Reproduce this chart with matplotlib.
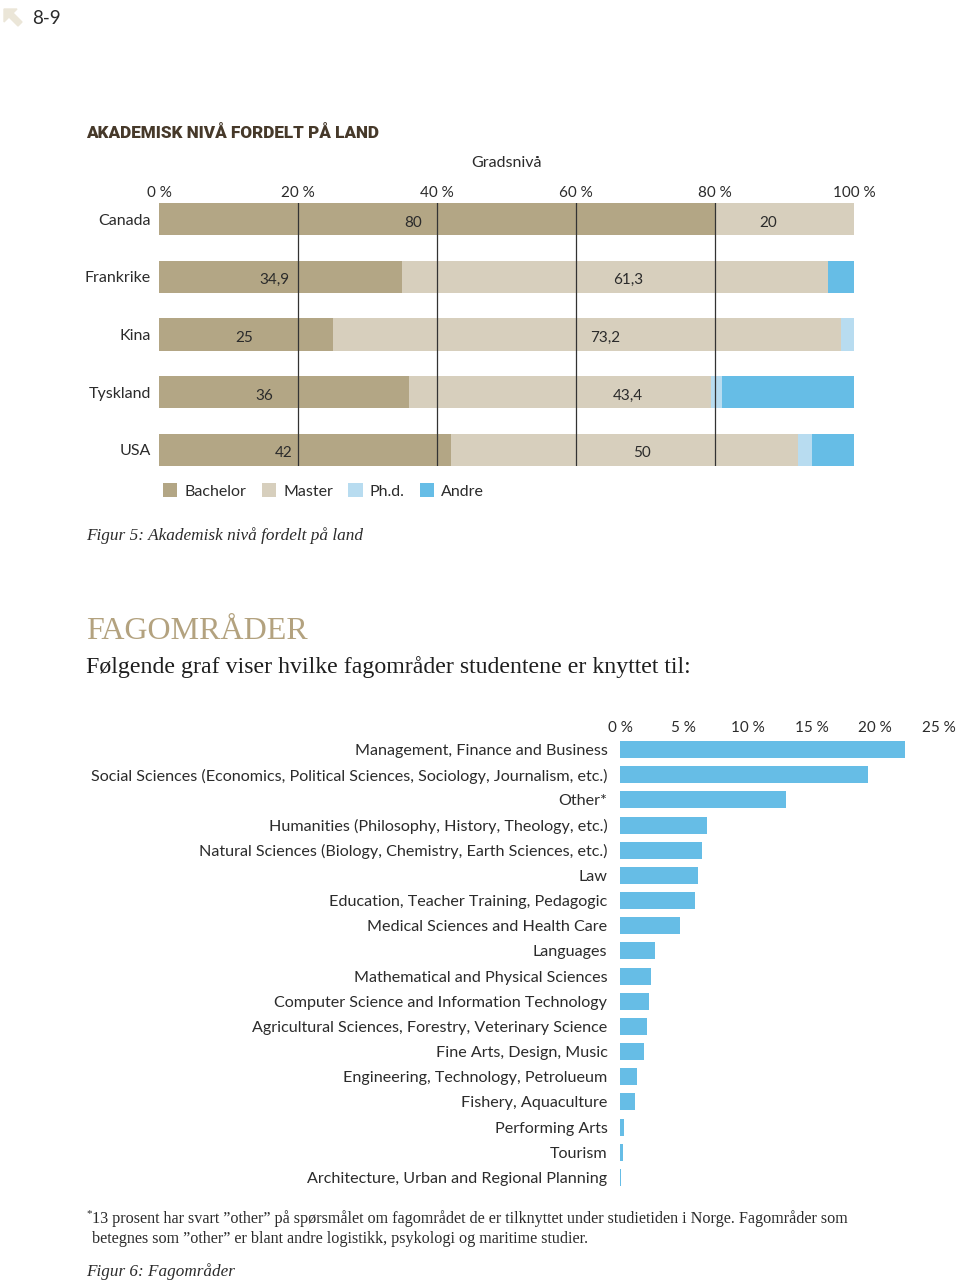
import numpy as np
import matplotlib.pyplot as plt

# Chart 1 data: academic level by country (percent)
countries = ["Canada", "Frankrike", "Kina", "Tyskland", "USA"]
bachelor = [80, 34.9, 25, 36, 42]
master = [20, 61.3, 73.2, 43.4, 50]
phd = [0, 0, 1.8, 1.6, 2.0]
andre = [0, 3.8, 0, 19.0, 6.0]
levels = ["Bachelor", "Master", "Ph.d.", "Andre"]
ticks1 = [0, 20, 40, 60, 80, 100]

# Chart 2 data: fields of study (percent)
fields = [
    "Management, Finance and Business",
    "Social Sciences (Economics, Political Sciences, Sociology, Journalism, etc.)",
    "Other*",
    "Humanities (Philosophy, History, Theology, etc.)",
    "Natural Sciences (Biology, Chemistry, Earth Sciences, etc.)",
    "Law",
    "Education, Teacher Training, Pedagogic",
    "Medical Sciences and Health Care",
    "Languages",
    "Mathematical and Physical Sciences",
    "Computer Science and Information Technology",
    "Agricultural Sciences, Forestry, Veterinary Science",
    "Fine Arts, Design, Music",
    "Engineering, Technology, Petrolueum",
    "Fishery, Aquaculture",
    "Performing Arts",
    "Tourism",
    "Architecture, Urban and Regional Planning",
]
shares = [22.3, 19.4, 13.0, 6.8, 6.4, 6.1, 5.9, 4.7, 2.75, 2.45, 2.25, 2.15,
          1.9, 1.35, 1.2, 0.35, 0.25, 0.1]
ticks2 = [0, 5, 10, 15, 20, 25]

colors = ["#b3a685", "#d7cfbd", "#b8dcf0", "#66bde6"]
sans = "Lato"
serif = "Liberation Serif"
txt = "#2b2b2b"

W, H = 960, 1284
fig = plt.figure(figsize=(W / 100, H / 100), dpi=100)
plt.rcParams["font.family"] = [sans, "DejaVu Sans"]


def box(x0, y0, x1, y1):
    return [x0 / W, 1 - y1 / H, (x1 - x0) / W, (y1 - y0) / H]


def fmt(v):
    s = ("%.1f" % v).rstrip("0").rstrip(".")
    return s.replace(".", ",")


# page header
fig.patches.append(plt.Polygon([[4 / W, 1 - 9 / H], [17 / W, 1 - 9 / H], [13 / W, 1 - 13 / H],
                                [22 / W, 1 - 22 / H], [18 / W, 1 - 26 / H], [9 / W, 1 - 17 / H],
                                [4 / W, 1 - 22 / H]], closed=True, transform=fig.transFigure,
                               color="#ebe6d8"))
fig.text(32 / W, 1 - 19 / H, "8-9", fontsize=13.5, color=txt, va="center")

fig.text(86 / W, 1 - 133 / H, "AKADEMISK NIVÅ FORDELT PÅ LAND", fontsize=12.3,
         family=["Roboto", "DejaVu Sans"], fontweight="black", color="#46392a", va="center")
fig.text(507 / W, 1 - 163 / H, "Gradsnivå", fontsize=11.5, color=txt,
         ha="center", va="center")

# chart 1
ax1 = fig.add_axes(box(159, 203, 854, 466))
y1 = np.arange(len(countries))
left = np.zeros(len(countries))
for vals, c, name in zip([bachelor, master, phd, andre], colors, levels):
    ax1.barh(y1, vals, left=left, height=0.56, color=c, label=name, zorder=1)
    left += np.array(vals)

# small nudges so the value labels sit where the original put them
nudge_b = [-3.5, -0.8, -0.3, -2.8, -3.0]
nudge_m = [-2.4, 2.0, 2.6, 9.8, 2.5]
for i in range(len(countries)):
    ax1.text(bachelor[i] / 2 + nudge_b[i], y1[i] + 0.06, fmt(bachelor[i]), ha="center",
             va="center", fontsize=11, color=txt, zorder=4)
    ax1.text(bachelor[i] + master[i] / 2 + nudge_m[i], y1[i] + 0.06, fmt(master[i]),
             ha="center", va="center", fontsize=11, color=txt, zorder=4)

for t in ticks1[1:-1]:
    ax1.axvline(t, color="#333333", lw=0.9, zorder=3)

ax1.set_xlim(0, 100)
ax1.set_ylim(len(countries) - 1 + 0.28, -0.28)
ax1.set_yticks(y1)
ax1.set_yticklabels(countries, fontsize=11.5, color=txt)
ax1.xaxis.tick_top()
ax1.set_xticks(ticks1)
ax1.set_xticklabels(["%d %%" % t for t in ticks1], fontsize=11, color=txt)
ax1.tick_params(length=0)
ax1.tick_params(axis="y", pad=6)
ax1.tick_params(axis="x", pad=2)
for s in ax1.spines.values():
    s.set_visible(False)

fig.legend(*ax1.get_legend_handles_labels(), loc="center left",
           bbox_to_anchor=(163 / W, 1 - 491 / H), ncol=4, frameon=False, borderpad=0,
           borderaxespad=0, fontsize=11.5, handlelength=0.9, handleheight=0.9,
           handletextpad=0.45, columnspacing=0.95, labelcolor=txt)

fig.text(86 / W, 1 - 536 / H, "Figur 5: Akademisk nivå fordelt på land", family=serif,
         style="italic", fontsize=12.4, color=txt, va="center")

# section heading
fig.text(86 / W, 1 - 631 / H, "FAGOMRÅDER", family=serif, fontsize=23, color="#b3a27f",
         va="center")
fig.text(86 / W, 1 - 667 / H, "Følgende graf viser hvilke fagområder studentene er knyttet til:",
         family=serif, fontsize=17.2, color="#1e1e1e", va="center")

# chart 2
ax2 = fig.add_axes(box(620, 741, 939, 1186))
y2 = np.arange(len(fields))
ax2.barh(y2, shares, height=0.68, color=colors[3])
ax2.set_xlim(0, 25)
ax2.set_ylim(len(fields) - 1 + 0.34, -0.34)
ax2.set_yticks(y2)
ax2.set_yticklabels(fields, fontsize=11.6, color=txt)
ax2.xaxis.tick_top()
ax2.set_xticks(ticks2)
ax2.set_xticklabels(["%d %%" % t for t in ticks2], fontsize=11, color=txt)
ax2.tick_params(length=0)
ax2.tick_params(axis="y", pad=9)
ax2.tick_params(axis="x", pad=4)
for s in ax2.spines.values():
    s.set_visible(False)

# footnote
fig.text(86 / W, 1 - 1214 / H, "*", family=serif, fontsize=8, color=txt, va="center")
fig.text(92 / W, 1 - 1219 / H,
         "13 prosent har svart \u201dother\u201d på spørsmålet om fagområdet de er tilknyttet "
         "under studietiden i Norge. Fagområder som", family=serif, fontsize=11.6,
         color=txt, va="center")
fig.text(92 / W, 1 - 1239 / H,
         "betegnes som \u201dother\u201d er blant andre logistikk, psykologi og maritime studier.",
         family=serif, fontsize=11.6, color=txt, va="center")
fig.text(86 / W, 1 - 1272 / H, "Figur 6: Fagområder", family=serif, style="italic",
         fontsize=12.3, color=txt, va="center")

fig.savefig("out.png", dpi=100, facecolor="white")
